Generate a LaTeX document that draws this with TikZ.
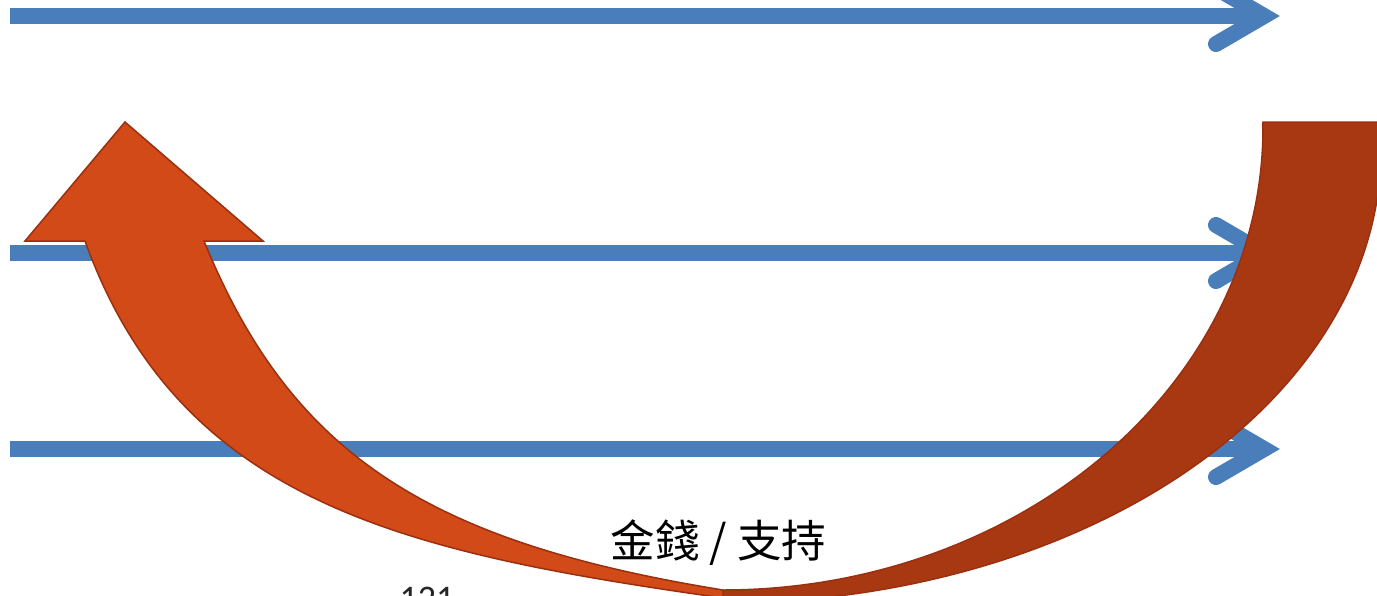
\documentclass[tikz,border=0pt]{standalone}
\usepackage{fontspec}
\newfontfamily\cjk{Noto Sans CJK TC}
\newfontfamily\numfont{Carlito}
\definecolor{arrowblue}{HTML}{4A7EBB}
\definecolor{frontred}{HTML}{D14A17}
\definecolor{backred}{HTML}{A73812}
\definecolor{edgered}{HTML}{9B3010}
\begin{document}
\begin{tikzpicture}[x=1pt,y=-1pt,
  blueline/.style={draw=arrowblue,line width=16pt,line cap=butt},
  bluehead/.style={draw=arrowblue,line width=16pt,line cap=round,line join=miter,miter limit=10},
  backband/.style={fill=backred,draw=edgered,line width=1.5pt,line join=round},
  frontband/.style={fill=frontred,draw=edgered,line width=1.5pt,line join=miter},
  lbl/.style={font=\cjk\fontsize{44.5}{50}\selectfont,text=black,inner sep=0pt},
  pagenum/.style={font=\numfont\fontsize{36}{40}\selectfont,text=black!85,inner sep=0pt,anchor=north}]
\useasboundingbox (0,0) rectangle (1377,595);
\clip (0,0) rectangle (1377,595);
% blue arrows
\coordinate (s1) at (10,16);   \coordinate (e1) at (1264,16);
\coordinate (s2) at (10,253);  \coordinate (e2) at (1264,253);
\coordinate (s3) at (10,449);  \coordinate (e3) at (1264,449);
\foreach \s/\e in {s1/e1,s2/e2,s3/e3}{
  \draw[blueline] (\s) -- (\e);
  \draw[bluehead] (\e) ++(-48,-28) -- (\e) -- ++(-48,28);
}
% back (dark) band: outer ellipse centre (723,150), inner ellipse centre (723,128)
\path[backband] (1263,122) -- (1379.7,122.03)
  arc[start angle=-3.54, end angle=90, x radius=658, y radius=453]
  -- (723,590)
  arc[start angle=90, end angle=-0.74, x radius=540, y radius=462]
  -- cycle;
% front (light) band with arrowhead
\path[frontband] (125,122) -- (263,241) -- (204,241)
  .. controls (291,454) and (427,542) .. (723,590)
  -- (723,598)
  .. controls (406,553) and (180,504) .. (85,241)
  -- (25,241) -- cycle;
% labels
\node[lbl] (money) at (718.5,543) {金錢 / 支持};
\node[pagenum] (page) at (427,587) {121};
\end{tikzpicture}
\end{document}
